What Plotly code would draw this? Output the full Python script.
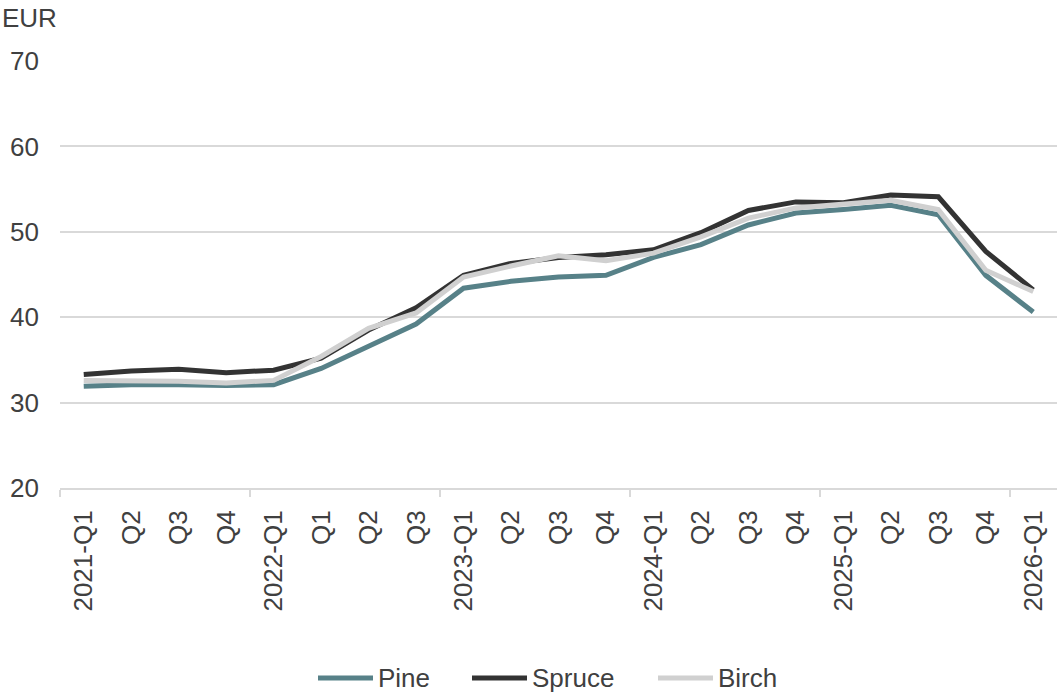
import plotly.graph_objects as go

# Quarterly price index categories (as labelled on the axis)
quarters = ["2021-Q1", "Q2", "Q3", "Q4",
            "2022-Q1", "Q1", "Q2", "Q3",
            "2023-Q1", "Q2", "Q3", "Q4",
            "2024-Q1", "Q2", "Q3", "Q4",
            "2025-Q1", "Q2", "Q3", "Q4",
            "2026-Q1"]

pine = [31.9, 32.1, 32.1, 32.0, 32.1, 34.0, 36.6, 39.2, 43.4, 44.2, 44.7,
        44.9, 47.0, 48.5, 50.8, 52.2, 52.6, 53.1, 52.0, 44.9, 40.6]
spruce = [33.3, 33.7, 33.9, 33.5, 33.8, 35.2, 38.5, 41.1, 44.9, 46.3, 47.0,
          47.3, 47.9, 49.9, 52.5, 53.5, 53.4, 54.3, 54.1, 47.7, 43.2]
birch = [32.6, 32.6, 32.5, 32.3, 32.6, 35.4, 38.7, 40.5, 44.7, 46.0, 47.2,
         46.6, 47.5, 49.4, 51.6, 52.8, 53.2, 53.7, 52.6, 45.5, 43.0]

series = [("Pine", pine, "#578188"),
          ("Spruce", spruce, "#333333"),
          ("Birch", birch, "#d0d0d0")]

x = list(range(len(quarters)))
font_family = "Liberation Sans, Arial, sans-serif"
text_color = "#404040"

W, H = 1060, 693
M_L, M_R, M_T, M_B = 60, 3, 61, 205
plot_w = W - M_L - M_R
plot_h = H - M_T - M_B


def px_to_paper_x(px):
    return (px - M_L) / plot_w


def px_to_paper_y(py):
    return (H - M_B - py) / plot_h


fig = go.Figure()
for name, values, color in series:
    fig.add_trace(go.Scatter(
        x=x, y=values, name=name, mode="lines",
        line=dict(color=color, width=5),
        showlegend=False,
    ))

# Legend drawn below the axis: a line sample followed by the series name
legend_y = px_to_paper_y(678)
legend_starts = [318, 472, 658]
sample_len = 55
shapes = []
annotations = [dict(
    text="EUR", xref="paper", yref="paper",
    x=px_to_paper_x(0), xanchor="left",
    y=px_to_paper_y(18), yanchor="middle",
    showarrow=False, font=dict(size=26, color=text_color),
)]
for (name, _, color), start in zip(series, legend_starts):
    shapes.append(dict(
        type="line", xref="paper", yref="paper",
        x0=px_to_paper_x(start), x1=px_to_paper_x(start + sample_len),
        y0=legend_y, y1=legend_y,
        line=dict(color=color, width=5),
    ))
    annotations.append(dict(
        text=name, xref="paper", yref="paper",
        x=px_to_paper_x(start + sample_len + 3), xanchor="left",
        y=legend_y, yanchor="middle",
        showarrow=False, font=dict(size=26, color=text_color),
    ))

fig.update_layout(
    width=W, height=H,
    margin=dict(l=M_L, r=M_R, t=M_T, b=M_B),
    paper_bgcolor="white", plot_bgcolor="white",
    font=dict(family=font_family, size=26, color=text_color),
    showlegend=False,
    shapes=shapes,
    annotations=annotations,
)

fig.update_xaxes(
    range=[-0.5, len(quarters) - 0.5],
    tickmode="array", tickvals=x, ticktext=quarters,
    tickangle=-90, ticks="", ticklabelstandoff=10,
    showgrid=False, zeroline=False,
    showline=True, linecolor="#d9d9d9", linewidth=2,
    minor=dict(ticks="outside", tick0=-0.5, dtick=4, ticklen=7,
               tickcolor="#d9d9d9", tickwidth=2, showgrid=False),
)
fig.update_yaxes(
    range=[20, 70], tickmode="array", tickvals=[20, 30, 40, 50, 60, 70],
    showgrid=True, gridcolor="#d9d9d9", gridwidth=2,
    zeroline=False, showline=False, ticks="", ticklabelstandoff=20,
)

fig.write_html("out.html")
